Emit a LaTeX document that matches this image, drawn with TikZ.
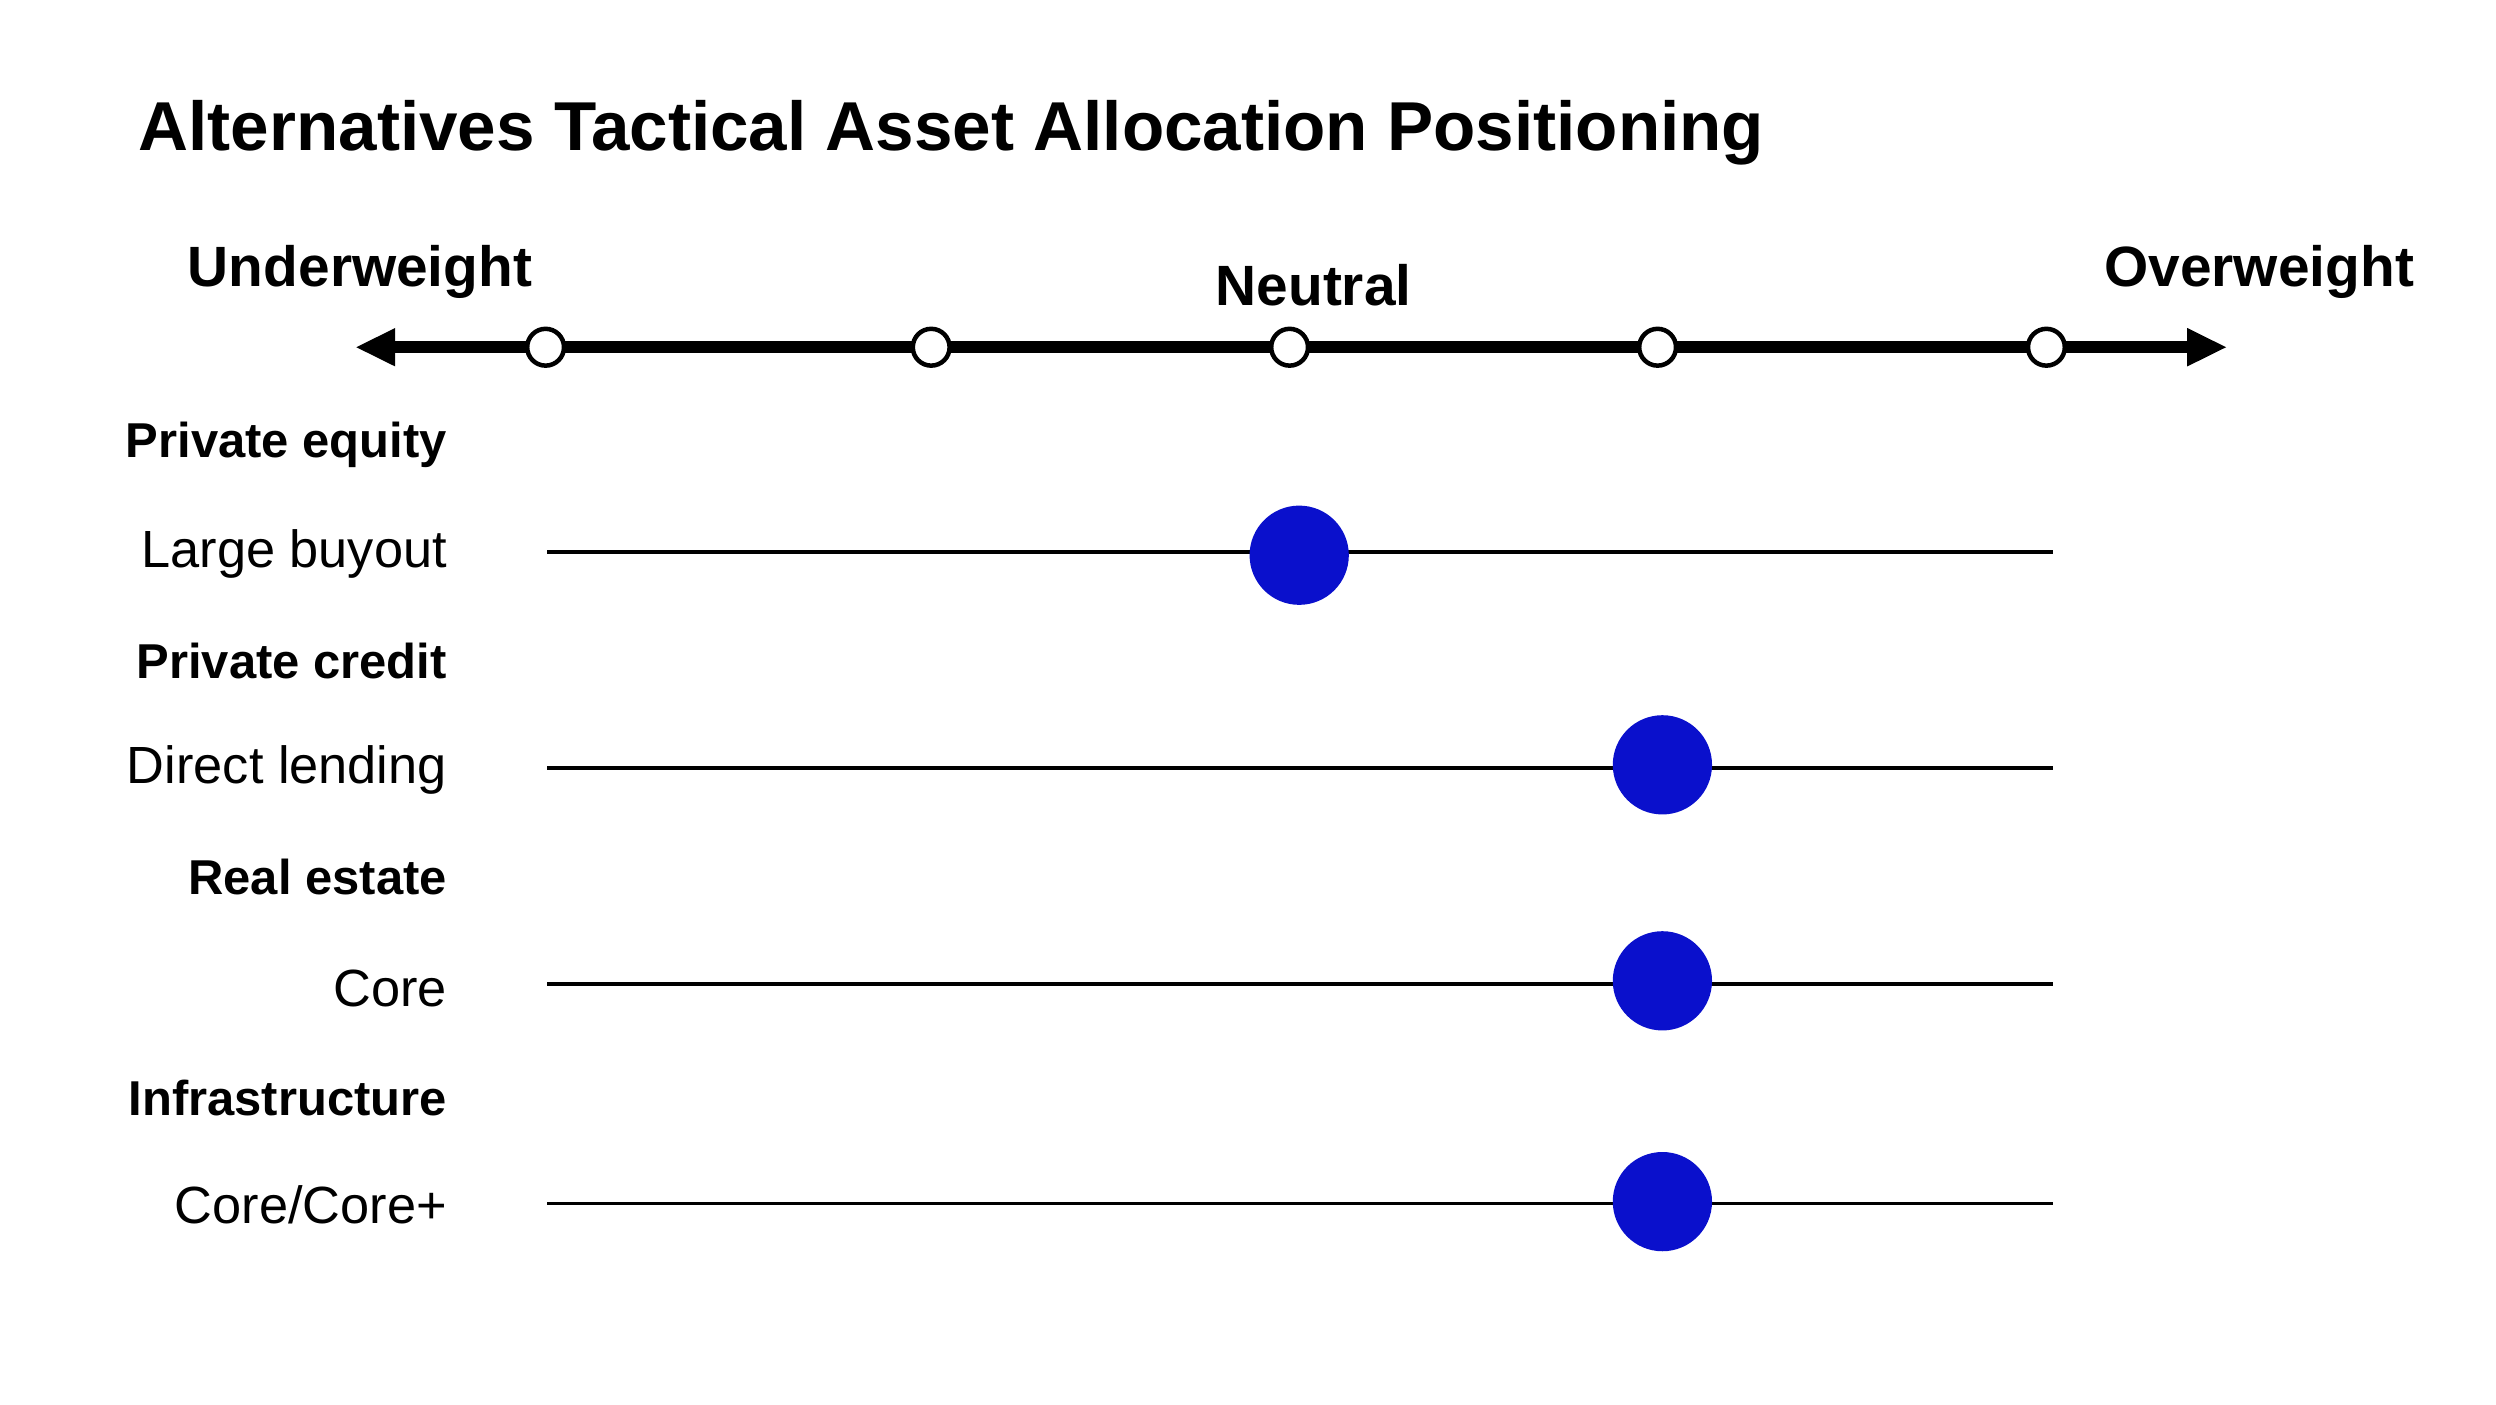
\documentclass[tikz,border=0pt]{standalone}
\usepackage{fontspec}
\setmainfont{Liberation Sans}
\usetikzlibrary{arrows.meta}
\definecolor{dotblue}{HTML}{0A10CC}
\begin{document}
\begin{tikzpicture}[x=0.01cm,y=-0.01cm,
  tick/.style={circle,draw=black,fill=white,line width=0.8pt,minimum size=0.23cm,inner sep=0pt},
  dot/.style={circle,fill=dotblue,minimum size=0.62cm,inner sep=0pt},
  hdr/.style={anchor=east,inner sep=0pt,font=\fontsize{8.7}{10}\selectfont\bfseries},
  row/.style={anchor=east,inner sep=0pt,font=\fontsize{9.3}{11}\selectfont},
  ax/.style={font=\fontsize{10.1}{12}\selectfont\bfseries},
  rline/.style={line width=0.6pt}]
\useasboundingbox (0,0) rectangle (1560,877.5);
\node[anchor=west,inner sep=0pt,font=\fontsize{12.3}{14}\selectfont\bfseries] (title) at (86,83) {Alternatives Tactical Asset Allocation Positioning};
\node[ax] (uw) at (225,170) {Underweight};
\node[ax] (nt) at (821,178) {Neutral};
\node[ax] (ow) at (1412,170) {Overweight};
\coordinate (al) at (222,217);
\coordinate (ar) at (1392,217);
\draw[line width=2.2pt,{Triangle[length=0.25cm,width=0.22cm]}-{Triangle[length=0.25cm,width=0.22cm]}] (al) -- (ar);
\foreach \x/\n in {341/t1,582/t2,806/t3,1036/t4,1279/t5}{\node[tick] (\n) at (\x,217) {};}
\node[hdr] (h1) at (280,278) {Private equity};
\node[hdr] (h2) at (280,413) {Private credit};
\node[hdr] (h3) at (280,548) {Real estate};
\node[hdr] (h4) at (280,686) {Infrastructure};
\node[row] (r1) at (280,346) {Large buyout};
\node[row] (r2) at (280,481) {Direct lending};
\node[row] (r3) at (280,618) {Core};
\node[row] (r4) at (280,753) {Core/Core+};
\foreach \y/\n in {345/1,480/2,615/3,752/4}{
  \coordinate (l\n) at (342,\y); \coordinate (e\n) at (1283,\y);
  \draw[rline] (l\n) -- (e\n);}
\node[dot] (d1) at (812,347) {};
\node[dot] (d2) at (1039,478) {};
\node[dot] (d3) at (1039,613) {};
\node[dot] (d4) at (1039,751) {};
\end{tikzpicture}
\end{document}
